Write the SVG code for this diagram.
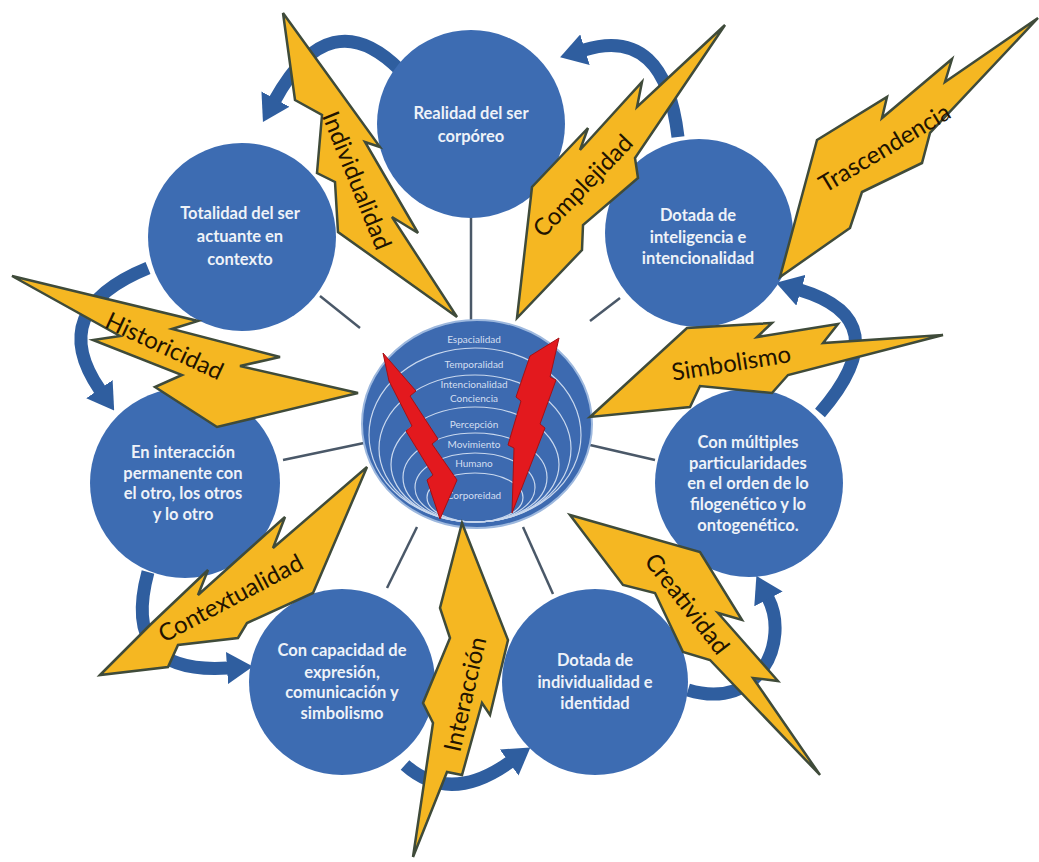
<svg xmlns="http://www.w3.org/2000/svg" width="1039" height="862" viewBox="0 0 1039 862">
<style>
.node{fill:#3D6CB2}
.ntxt{font-family:Lato,"Liberation Sans",sans-serif;font-weight:700;font-size:16.5px;fill:#EEF2F8;text-anchor:middle}
.link{stroke:#4A5868;stroke-width:2.5;fill:none}
.arc{fill:none;stroke:#2F5E9F;stroke-width:13}
.bolt{fill:#F5B722;stroke:#3F4B3A;stroke-width:2.5;stroke-linejoin:miter}
.btxt{font-family:Lato,"Liberation Sans",sans-serif;font-size:24px;fill:#221300;text-anchor:middle;dominant-baseline:central}
.red{fill:#E3191E;stroke:#A51014;stroke-width:1}
.ring{fill:none;stroke:#C9D8EE;stroke-width:1.2}
.stxt{font-family:Lato,"Liberation Sans",sans-serif;font-size:10px;fill:#D3DFF1;text-anchor:middle}
</style>
<defs>
<marker id="ah" viewBox="0 0 26 32" refX="1" refY="16" markerWidth="26" markerHeight="32" markerUnits="userSpaceOnUse" orient="auto">
<path d="M0,0 L26,16 L0,32 Z" fill="#2F5E9F"/>
</marker>
<clipPath id="sph"><ellipse cx="477" cy="424" rx="115" ry="104"/></clipPath>
</defs>
<rect width="1039" height="862" fill="#FFFFFF"/>

<g id="connectors">
<line class="link" x1="471" y1="215" x2="471" y2="322"/>
<line class="link" x1="320" y1="296" x2="360" y2="328"/>
<line class="link" x1="620" y1="298" x2="590" y2="321"/>
<line class="link" x1="283" y1="460" x2="364" y2="443"/>
<line class="link" x1="590" y1="445" x2="655" y2="460"/>
<line class="link" x1="417" y1="527" x2="387" y2="588"/>
<line class="link" x1="523" y1="527" x2="553" y2="594"/>
<path class="arc" d="M400,70 Q330,0 275,100" marker-end="url(#ah)"/>
<path class="arc" d="M678,137 Q665,25 584,50" marker-end="url(#ah)"/>
<path class="arc" d="M820,413 Q900,320 800,290" marker-end="url(#ah)"/>
<path class="arc" d="M688,690 C760,712 790,640 768,598" marker-end="url(#ah)"/>
<path class="arc" d="M405,765 Q450,805 510,762" marker-end="url(#ah)"/>
<path class="arc" d="M148,572 Q120,675 228,668" marker-end="url(#ah)"/>
<path class="arc" d="M148,268 Q45,310 100,390" marker-end="url(#ah)"/>
</g>

<g id="n-realidad">
<circle class="node" cx="471" cy="124" r="94"/>
<text class="ntxt" x="471" y="119">Realidad del ser</text>
<text class="ntxt" x="471" y="142">corpóreo</text>
</g>
<g id="n-totalidad">
<circle class="node" cx="242" cy="237" r="94"/>
<text class="ntxt" x="240" y="219">Totalidad del ser</text>
<text class="ntxt" x="240" y="242">actuante en</text>
<text class="ntxt" x="240" y="265">contexto</text>
</g>
<g id="n-inteligencia">
<circle class="node" cx="699" cy="233" r="94"/>
<text class="ntxt" x="698" y="221">Dotada de</text>
<text class="ntxt" x="698" y="243">inteligencia e</text>
<text class="ntxt" x="698" y="264">intencionalidad</text>
</g>
<g id="n-interaccion">
<circle class="node" cx="185" cy="483" r="95"/>
<text class="ntxt" x="183" y="458">En interacción</text>
<text class="ntxt" x="183" y="479">permanente con</text>
<text class="ntxt" x="183" y="499">el otro, los otros</text>
<text class="ntxt" x="183" y="520">y lo otro</text>
</g>
<g id="n-multiples">
<circle class="node" cx="749" cy="483" r="94"/>
<text class="ntxt" x="748" y="448">Con múltiples</text>
<text class="ntxt" x="748" y="469">particularidades</text>
<text class="ntxt" x="748" y="489">en el orden de lo</text>
<text class="ntxt" x="748" y="510">filogenético y lo</text>
<text class="ntxt" x="748" y="531">ontogenético.</text>
</g>
<g id="n-capacidad">
<circle class="node" cx="342" cy="682" r="93"/>
<text class="ntxt" x="342" y="656">Con capacidad de</text>
<text class="ntxt" x="342" y="678">expresión,</text>
<text class="ntxt" x="342" y="698">comunicación y</text>
<text class="ntxt" x="342" y="719">simbolismo</text>
</g>
<g id="n-individualidad">
<circle class="node" cx="595" cy="682" r="93"/>
<text class="ntxt" x="595" y="666">Dotada de</text>
<text class="ntxt" x="595" y="688">individualidad e</text>
<text class="ntxt" x="595" y="709">identidad</text>
</g>

<g id="n-centro">
<ellipse cx="477" cy="424" rx="115" ry="104" fill="#3D6AB0" stroke="#9DB8DE" stroke-width="2"/>
<g clip-path="url(#sph)">
<ellipse class="ring" cx="475" cy="435" rx="106" ry="87"/>
<ellipse class="ring" cx="475" cy="448.5" rx="96" ry="73.5"/>
<ellipse class="ring" cx="475" cy="464.5" rx="84" ry="57.5"/>
<ellipse class="ring" cx="475" cy="477.5" rx="72" ry="44.5"/>
<ellipse class="ring" cx="475" cy="487.5" rx="60" ry="34.5"/>
<ellipse class="ring" cx="475" cy="497.5" rx="48" ry="24.5"/>
</g>
<text class="stxt" x="474" y="343">Espacialidad</text>
<text class="stxt" x="474" y="368">Temporalidad</text>
<text class="stxt" x="474" y="388">Intencionalidad</text>
<text class="stxt" x="474" y="402">Conciencia</text>
<text class="stxt" x="474" y="428">Percepción</text>
<text class="stxt" x="474" y="448">Movimiento</text>
<text class="stxt" x="474" y="467">Humano</text>
<text class="stxt" x="474" y="499">Corporeidad</text>
<polygon class="red" points="383,353 416,391 410,396 438,439 432,444 457,480 440,519 427,480 433,475 406,431 412,426 389,381"/>
<polygon class="red" points="559,338 550,377 556,380 540,424 545,428 512,513 514,448 508,445 521,401 516,397 530,356"/>
</g>

<g id="b-individualidad">
<polygon class="bolt" points="283,13 380,147 365,142 418,233 392,217 457,317 338,232 335,182 317,173 322,115 295,100"/>
<text class="btxt" transform="translate(358,180) rotate(68)">Individualidad</text>
</g>
<g id="b-complejidad">
<polygon class="bolt" points="517,318 532,187 588,128 580,150 642,82 637,107 725,25 635,158 638,178 583,225 582,250"/>
<text class="btxt" transform="translate(582,185) rotate(-46)">Complejidad</text>
</g>
<g id="b-trascendencia">
<polygon class="bolt" points="780,277 817,140 887,97 882,118 952,59 945,82 1038,18 930,133 922,163 862,192 850,228"/>
<text class="btxt" transform="translate(884,147) rotate(-31)">Trascendencia</text>
</g>
<g id="b-historicidad">
<polygon class="bolt" points="12,276 198,321 172,329 280,357 240,366 358,393 217,427 155,387 182,375 93,340 120,336"/>
<text class="btxt" transform="translate(165,345) rotate(25)">Historicidad</text>
</g>
<g id="b-simbolismo">
<polygon class="bolt" points="590,417 687,328 772,323 757,337 838,324 823,343 943,335 788,375 772,393 700,386 690,407"/>
<text class="btxt" transform="translate(731,362) rotate(-9)">Simbolismo</text>
</g>
<g id="b-contextualidad">
<polygon class="bolt" points="100,675 150,625 208,570 198,595 285,517 273,548 367,467 313,593 247,623 238,638 178,645 168,667"/>
<text class="btxt" transform="translate(230,597) rotate(-28)">Contextualidad</text>
</g>
<g id="b-interaccion">
<polygon class="bolt" points="462,523 508,640 490,715 482,703 462,775 447,772 413,857 433,723 423,703 450,638 440,608"/>
<text class="btxt" transform="translate(464,694) rotate(-77)">Interacción</text>
</g>
<g id="b-creatividad">
<polygon class="bolt" points="570,515 700,552 742,620 718,613 778,681 753,678 820,775 710,660 683,652 655,593 623,585"/>
<text class="btxt" transform="translate(688,603) rotate(52)">Creatividad</text>
</g>
</svg>
